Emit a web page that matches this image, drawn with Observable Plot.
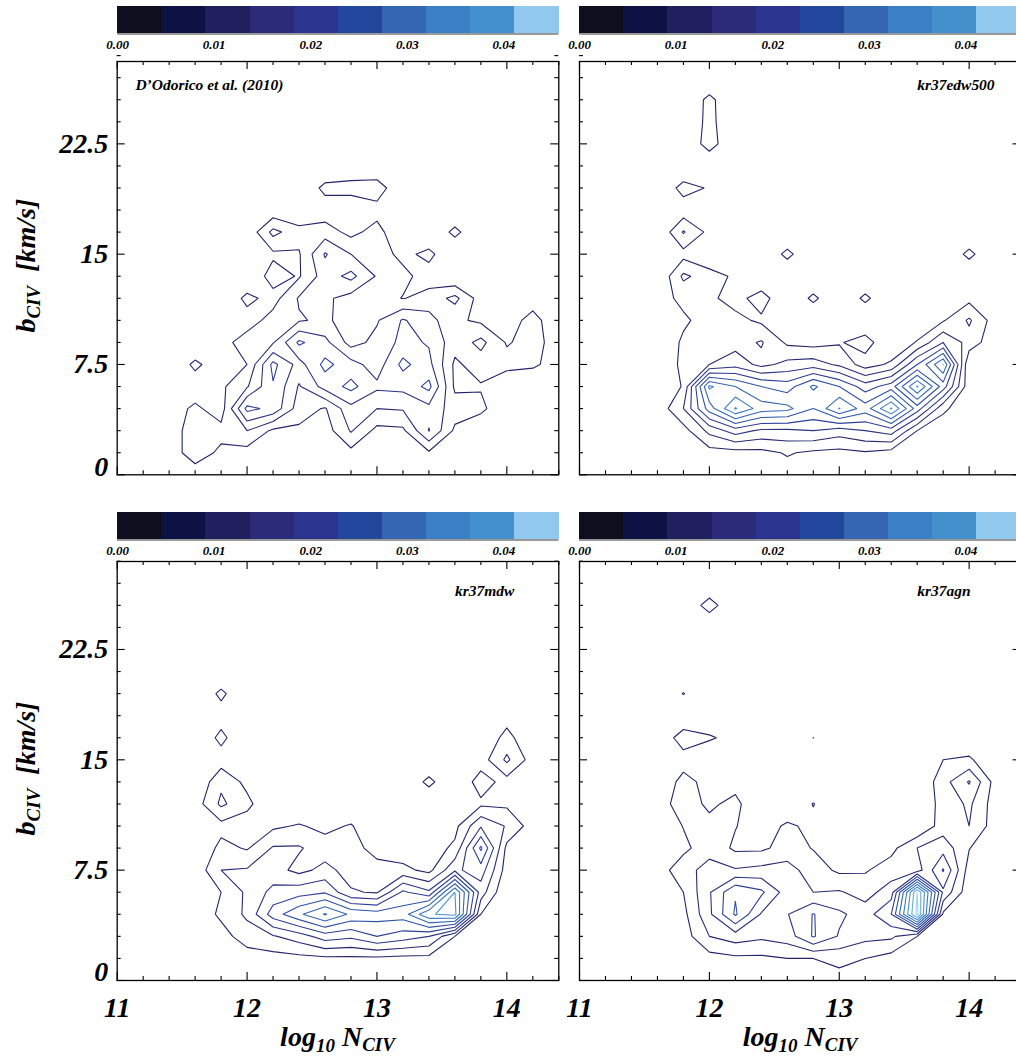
<!DOCTYPE html>
<html><head><meta charset="utf-8">
<script src="https://cdn.jsdelivr.net/npm/d3@7"></script>
<script src="https://cdn.jsdelivr.net/npm/@observablehq/plot@0.6"></script>
<style>
html,body{margin:0;padding:0;background:#fff;}
body{width:1016px;height:1058px;overflow:hidden;position:relative;}
#root{position:absolute;left:0;top:0;width:1016px;height:1058px;}
svg text{font-family:"Liberation Serif","Times New Roman",serif;font-weight:bold;font-style:italic;}
</style></head><body>
<div id="root"></div>
<script>
// ---------- values ----------
const levelStep = 0.00457;                 // density per contour level / colour block
const levels = [1, 2, 3, 4, 5, 6, 7, 8, 9, 10];
const colorbarTicks = [0, 0.01, 0.02, 0.03, 0.04];
const barColors = ["#0e0e1e", "#0d1144", "#20205e", "#2b2b7a", "#2b3590", "#22479c", "#3367b1", "#3b7fc4", "#4490cd", "#90c8ee"];
const lineColors = ["#24246a", "#272a72", "#2b3383", "#2e4096", "#2f52a8", "#3466b5", "#3b7bc3", "#4890d0", "#64aae0", "#9fd3f4"];
const xMajor = [11, 12, 13, 14];
const yMajor = [0, 7.5, 15, 22.5];
const xMinor = d3.range(11.2, 14.41, 0.2).filter(v => Math.abs(v - Math.round(v)) > 1e-6);
const yMinor = d3.range(1.5, 28.6, 1.5).filter(v => Math.abs(v / 7.5 - Math.round(v / 7.5)) > 1e-6);

// histogram grid: columns log N = 11.0 ... 14.4 (step 0.2), rows b = 0 ... 28.5 (step 1.5)
const gridW = 18, gridH = 20;
const gridX = [10.9, 14.5], gridY = [-0.75, 29.25];

// values in units of levelStep, row 0 = b 0 km/s
const dOdorico2010 = [
 [0,0,0,0.5,0,0,0,0,0,0.3,0,0,0.3,0,0,0,0,0],
 [0,0,0.5,1.5,0.8,0.6,0,0,0,0.7,0,0,0.85,0,0,0,0,0],
 [0,0,0.5,1.5,1.3,2.0,0.8,0.8,0.5,2.1,0.7,0.8,3.05,0.8,0,0,0,0],
 [0,0,0.5,1.2,0.5,4.3,3.7,1.5,0.9,2.7,2.0,2.1,2.7,1.5,1.3,0,0,0],
 [0,0,0,0.4,0.8,1.9,3.9,1.9,3.4,4.3,3.2,3.3,4.3,0.8,0.9,0,0,0],
 [0,0,0,1.25,0.3,1.0,4.3,2.6,4.3,3.4,2.5,4.3,3.3,0.8,1.5,1.4,1.2,0.5],
 [0,0,0,0,0.6,1.5,1.9,4.2,3.3,1.6,2.3,3.3,2.9,1.4,2.3,0.9,1.4,0.5],
 [0,0,0,0,0.2,0.5,1.4,1.9,2.2,1.5,1.9,3.1,2.4,1.2,0.8,0.6,1.3,0.4],
 [0,0,0,0,0,1.3,0.6,2.1,2.2,1.6,1.5,0.95,1.4,2.3,0.5,0,0.6,0],
 [0,0,0,0,0,0,1.5,0.9,2.5,3.3,1.9,1.3,0.5,0,0,0,0,0],
 [0,0,0,0,0,0,0.8,0.9,3.1,2.0,1.5,0.7,1.3,0,0,0,0,0],
 [0,0,0,0,0,0.2,2.3,1.4,1.5,0.7,1.4,0,0,1.3,0,0,0,0],
 [0,0,0,0,0,0,0.3,0,0.4,0,0.6,0,0,0,0,0,0,0],
 [0,0,0,0,0,0,0,0,1.3,1.5,1.6,0,0,0,0,0,0,0]
];
const kr37edw500 = [
 [0,0,0,0,0,0,0,0,0.5,0,0,0,0,0,0,0,0,0],
 [0,0,0,0,0,0.6,0.6,0.7,1.1,0.8,0.7,0.9,0.6,0.3,0,0,0,0],
 [0,0,0,0,0.6,2.3,3.5,2.8,2.8,3.0,2.5,3.0,3.5,1.0,0.4,0,0,0],
 [0,0,0,0.3,2.0,5.5,8.1,6.5,6.3,5.0,7.05,5.5,8.1,4.5,1.2,0.3,0,0],
 [0,0,0,0,1.1,7.2,6.0,5.0,4.5,6.2,5.0,3.5,4.5,8.1,4.5,0.3,0,0],
 [0,0,0,0,1.3,2.0,2.6,1.7,2.3,2.5,1.8,0.5,1.2,4.0,7.02,0,0,0],
 [0,0,0,0,1.2,1.6,1.6,2.1,0.8,0.6,0.9,1.5,0,1.1,3.0,1.6,0.3,0],
 [0,0,0,0,0.8,1.5,1.3,0.8,0,0,0,0,0,0,0.9,2.15,0.5,0],
 [0,0,0,0.5,1.3,1.2,0.6,1.5,0,1.25,0,1.25,0,0,0,0.7,0,0],
 [0,0,0,0,2.2,1.5,0.8,0,0,0,0,0,0,0,0,0,0,0],
 [0,0,0,0,0.65,0,0,0,1.3,0,0,0,0,0,0,1.3,0,0],
 [0,0,0,0,2.1,0.7,0,0,0,0,0,0,0,0,0,0,0,0],
 [0,0,0,0,0.4,0,0,0,0,0,0,0,0,0,0,0,0,0],
 [0,0,0,0,1.4,0.9,0,0,0,0,0,0,0,0,0,0,0,0],
 [0,0,0,0,0,0,0,0,0,0,0,0,0,0,0,0,0,0],
 [0,0,0,0,0,1.5,0,0,0,0,0,0,0,0,0,0,0,0],
 [0,0,0,0,0,1.35,0,0,0,0,0,0,0,0,0,0,0,0],
 [0,0,0,0,0,1.3,0,0,0,0,0,0,0,0,0,0,0,0]
];
const kr37mdw = [
 [0,0,0,0,0,0,0,0,0,0,0,0,0,0,0,0,0,0],
 [0,0,0,0,0,0.5,0.6,0.7,0.8,0.8,0.8,0.7,0.7,0.3,0,0,0,0],
 [0,0,0,0,0.6,1.5,1.9,2.5,3.5,3.2,4.0,3.5,3.0,1.0,0,0,0,0],
 [0,0,0,0.3,1.2,2.2,4.5,5.8,7.1,5.8,5.5,5.5,7.9,8.3,1.0,0,0,0],
 [0,0,0,0,1.0,2.2,3.3,3.6,3.9,2.1,1.9,4.2,3.2,8.0,2.5,0,0,0],
 [0,0,0,0.3,2.0,2.1,2.4,1.7,2.3,1.6,1.4,1.3,0.7,2.8,3.5,0.5,0,0],
 [0,0,0,0,1.3,0.9,2.1,2.1,1.5,1.4,0.6,0.3,0.5,1.2,5.2,0.7,0,0],
 [0,0,0,0,0.66,0.4,0.8,1.1,0.7,1.1,0,0,0,0.7,2.9,1.9,0.5,0],
 [0,0,0,0.5,2.2,1.3,0,0,0,0,0,0,0,0,0.8,0.8,0,0],
 [0,0,0,0,1.8,0.7,0,0,0,0,0,0,1.3,0,1.5,0.6,0,0],
 [0,0,0,0,0.5,0,0,0,0,0,0,0,0,0,0.5,2.2,0.5,0],
 [0,0,0,0,1.3,0,0,0,0,0,0,0,0,0,0,1.4,0,0],
 [0,0,0,0,0.5,0,0,0,0,0,0,0,0,0,0,0.5,0,0],
 [0,0,0,0,1.25,0,0,0,0,0,0,0,0,0,0,0,0,0]
];
const kr37agn = [
 [0,0,0,0,0,0,0,0,0,0,0.6,0,0,0,0,0,0,0],
 [0,0,0,0,0,0.6,0.8,0.8,1.0,1.0,1.3,1.0,0.6,0.3,0,0,0,0],
 [0,0,0,0,0.5,2.0,2.5,2.2,2.5,4.1,2.9,2.3,2.2,1.0,0,0,0,0],
 [0,0,0,0,0.7,2.8,5.15,2.9,2.95,4.05,3.2,2.5,4.0,10.3,0.8,0,0,0],
 [0,0,0,0,1.0,2.9,4.9,4.2,2.5,2.0,2.1,1.6,2.5,10.0,2.8,0.3,0,0],
 [0,0,0,0.4,1.7,2.3,2.1,2.3,2.4,1.5,0.8,0.9,1.5,1.5,4.1,0.5,0,0],
 [0,0,0,0,0.7,1.7,0.8,0.8,1.4,0.95,0.4,0.3,0.7,2.0,2.6,1.05,0,0],
 [0,0,0,0,1.05,1.3,1.05,0.4,1.2,0.7,0,0,0,0,1.5,2.0,0.5,0],
 [0,0,0,0.5,1.5,0.8,1.3,0,0,1.05,0,0,0,0.3,1.3,2.2,0.5,0],
 [0,0,0,0,1.4,0.6,0.6,0,0,0,0,0,0,0,1.6,3.1,0.6,0],
 [0,0,0,0,0.5,0,0,0,0,0,0,0,0,0,1.0,1.2,0,0],
 [0,0,0,0,1.6,1.15,0.6,0,0,1.01,0,0,0,0,0,0,0,0],
 [0,0,0,0,0,0,0,0,0,0,0,0,0,0,0,0,0,0],
 [0,0,0,0,1.05,0,0,0,0,0,0,0,0,0,0,0,0,0],
 [0,0,0,0,0,0,0,0,0,0,0,0,0,0,0,0,0,0],
 [0,0,0,0,0,0,0,0,0,0,0,0,0,0,0,0,0,0],
 [0,0,0,0,0,0,0,0,0,0,0,0,0,0,0,0,0,0],
 [0,0,0,0,0,1.5,0,0,0,0,0,0,0,0,0,0,0,0]
];

const panelNames = ["D\u2019Odorico et al. (2010)", "kr37edw500", "kr37mdw", "kr37agn"];
const panelGrids = [dOdorico2010, kr37edw500, kr37mdw, kr37agn];
const panelLabelX = [11.14, 13.6, 13.6, 13.6];
const panelLabelY = 26.5;

// ---------- layout ----------
const FRAME_W = 441.6;
const colLeft = [116.7, 579.3];
const rowTop = [61, 561];
const rowH = [413.3, 419];
const rowYMax = [28.1, 28.48];
const cbTop = [6, 511.8];
const CB_H = 27.5;

const root = document.getElementById("root");
const plotStyle = {background: "transparent", overflow: "visible", maxWidth: "none",
  fontFamily: "'Liberation Serif','Times New Roman',serif", fontWeight: "bold", fontStyle: "italic", color: "#000"};

function place(node, left, top) {
  const div = document.createElement("div");
  div.style.cssText = `position:absolute;left:${left}px;top:${top}px;`;
  div.appendChild(node);
  root.appendChild(div);
}

function flatGrid(rows) {
  const out = [];
  for (let j = 0; j < gridH; j++) {
    const r = rows[j] || [];
    for (let i = 0; i < gridW; i++) out.push((r[i] || 0) * levelStep);
  }
  return out;
}

function panel(idx) {
  const col = idx % 2, row = Math.floor(idx / 2);
  const h = rowH[row];
  const showY = col === 0, showX = row === 1;
  const mL = showY ? 116.7 : 10, mR = 10, mT = 10, mB = showX ? 80 : 10;
  const values = flatGrid(panelGrids[idx]);
  const marks = [];
  levels.forEach((k, li) => {
    marks.push(Plot.contour(values, {
      width: gridW, height: gridH, x1: gridX[0], x2: gridX[1], y1: gridY[0], y2: gridY[1],
      value: d => d, thresholds: [k * levelStep], fill: "none",
      stroke: lineColors[li], strokeWidth: 1.1, clip: true
    }));
  });
  const tk = {stroke: "#000", strokeWidth: 1.1};
  marks.push(Plot.tickX(xMinor, {x: d => d, insetTop: h - 4, ...tk}));
  marks.push(Plot.tickX(xMinor, {x: d => d, insetBottom: h - 4, ...tk}));
  marks.push(Plot.tickX(xMajor, {x: d => d, insetTop: h - 8, ...tk}));
  marks.push(Plot.tickX(xMajor, {x: d => d, insetBottom: h - 8, ...tk}));
  marks.push(Plot.tickY(yMinor, {y: d => d, insetRight: FRAME_W - 4, ...tk}));
  marks.push(Plot.tickY(yMinor, {y: d => d, insetLeft: FRAME_W - 4, ...tk}));
  marks.push(Plot.tickY(yMajor, {y: d => d, insetRight: FRAME_W - 8, ...tk}));
  marks.push(Plot.tickY(yMajor, {y: d => d, insetLeft: FRAME_W - 8, ...tk}));
  marks.push(Plot.frame({stroke: "#000", strokeWidth: 1.3}));
  marks.push(Plot.text([panelNames[idx]], {x: panelLabelX[idx], y: panelLabelY, text: d => d,
    textAnchor: "start", lineAnchor: "middle", fontSize: 15.5}));
  if (showY) {
    marks.push(Plot.text(yMajor.filter(v => v !== 0), {y: d => d, text: d => String(d), frameAnchor: "left",
      textAnchor: "end", lineAnchor: "middle", dx: -9, fontSize: 28}));
    marks.push(Plot.text(yMajor.filter(v => v === 0), {y: d => d, text: d => String(d), frameAnchor: "left",
      textAnchor: "end", lineAnchor: "middle", dx: -9, dy: -8, fontSize: 28}));
  }
  if (showX) {
    marks.push(Plot.text(xMajor, {x: d => d, text: d => String(d), frameAnchor: "bottom",
      lineAnchor: "middle", dy: 28, fontSize: 28}));
  }
  const chart = Plot.plot({
    width: mL + FRAME_W + mR, height: mT + h + mB,
    marginLeft: mL, marginRight: mR, marginTop: mT, marginBottom: mB,
    x: {domain: [11, 14.4], axis: null},
    y: {domain: [0, rowYMax[row]], axis: null},
    style: plotStyle,
    marks
  });
  place(chart, colLeft[col] - mL, rowTop[row] - mT);
}

function colorbar(col, row) {
  const mL = 20, mR = 20, mB = 22;
  const chart = Plot.plot({
    width: mL + FRAME_W + mR, height: CB_H + mB,
    marginLeft: mL, marginRight: mR, marginTop: 0, marginBottom: mB,
    x: {domain: [0, levelStep * barColors.length], axis: null},
    y: {domain: [0, 1], axis: null},
    style: plotStyle,
    marks: [
      Plot.rect(barColors, {x1: (d, i) => i * levelStep, x2: (d, i) => (i + 1) * levelStep,
        y1: 0, y2: 1, fill: d => d, shapeRendering: "crispEdges"}),
      Plot.ruleY([0], {stroke: "#333", strokeWidth: 1}),
      Plot.text(colorbarTicks, {x: d => d, text: d => d.toFixed(2), frameAnchor: "bottom",
        lineAnchor: "middle", dy: 11, fontSize: 13})
    ]
  });
  place(chart, colLeft[col] - mL, cbTop[row]);
}

for (let i = 0; i < 4; i++) panel(i);
for (let r = 0; r < 2; r++) for (let c = 0; c < 2; c++) colorbar(c, r);

// ---------- axis titles (with subscripts) ----------
const ns = "http://www.w3.org/2000/svg";
const overlay = d3.select(root).append("svg")
  .attr("width", 1016).attr("height", 1058)
  .style("position", "absolute").style("left", "0px").style("top", "0px")
  .style("pointer-events", "none").style("overflow", "visible");

colLeft.forEach(left => {
  const t = overlay.append("text").attr("x", left + FRAME_W / 2).attr("y", 1046)
    .attr("text-anchor", "middle").attr("font-size", 28).attr("fill", "#000");
  t.append("tspan").text("log");
  t.append("tspan").attr("font-size", 19).attr("dy", 6).text("10");
  t.append("tspan").attr("dy", -6).text("\u00a0N");
  t.append("tspan").attr("font-size", 19).attr("dy", 5).text("CIV");
});
rowTop.forEach((top, r) => {
  const cy = top + rowH[r] / 2 - 2;
  const t = overlay.append("text").attr("transform", `translate(35,${cy}) rotate(-90)`)
    .attr("text-anchor", "middle").attr("font-size", 28).attr("fill", "#000");
  t.append("tspan").text("b");
  t.append("tspan").attr("font-size", 19).attr("dy", 5).text("CIV");
  t.append("tspan").attr("dy", -5).text("\u00a0\u00a0[km/s]");
});
</script></body></html>
